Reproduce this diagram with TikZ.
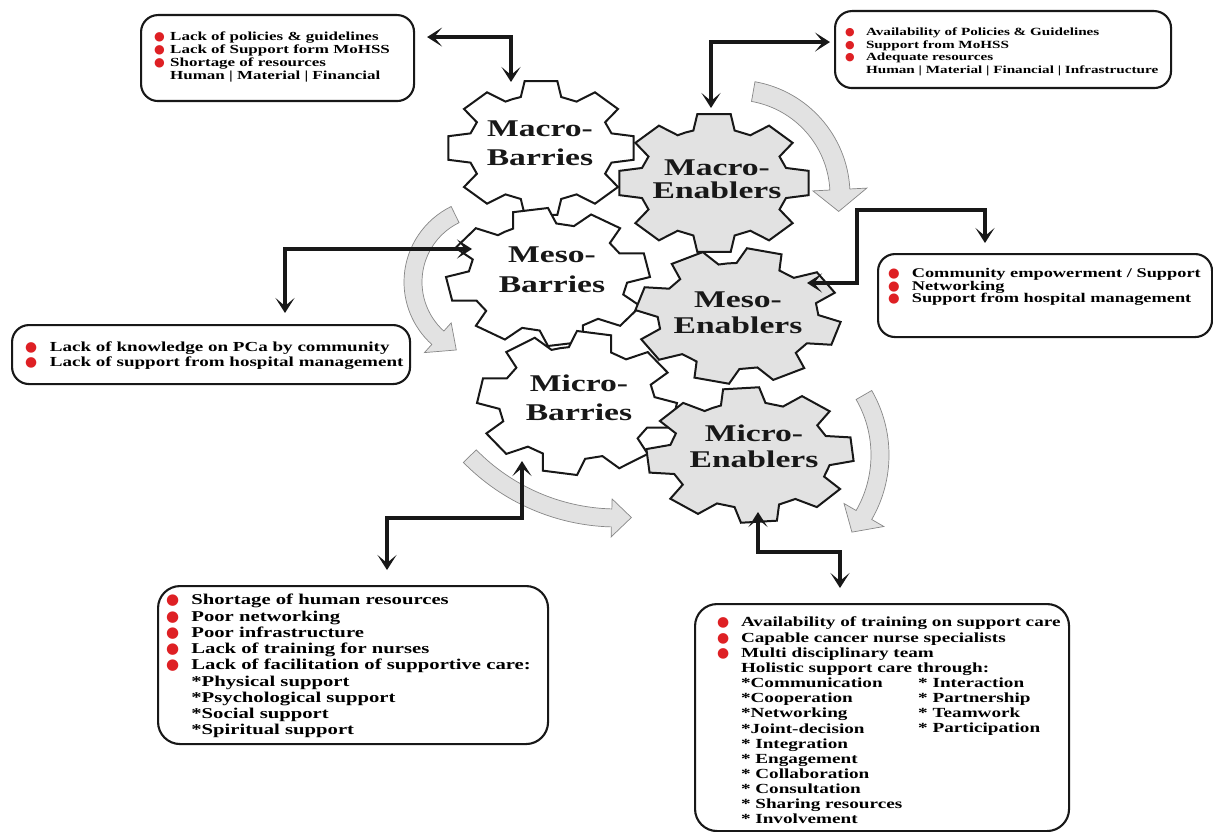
\documentclass[tikz,border=0pt]{standalone}
\usepackage{fontspec}
\setmainfont{Liberation Serif}
\newfontfamily\boxfont{Liberation Serif}[FakeStretch=1.38]
\newfontfamily\gearfont{Liberation Serif}[FakeStretch=1.4]
\newfontfamily\dotfont{DejaVu Sans}
\usetikzlibrary{arrows.meta,calc}

\definecolor{bulred}{RGB}{222,32,36}
\definecolor{gearfill}{RGB}{226,226,226}
\definecolor{bandfill}{RGB}{226,226,226}
\definecolor{bandedge}{RGB}{135,135,135}
\definecolor{ink}{RGB}{24,24,24}

% red bullet followed by a fixed gap; \ind gives the same indent without bullet
\newcommand\bul[1][16pt]{\makebox[#1][l]{\textcolor{bulred}{\dotfont ●}}}
\newcommand\ind[1][16pt]{\hspace*{#1}}

% gear outline: centre x, centre y, x radius, y radius, rotation, fill
\newcommand\gear[6]{%
  \filldraw[gearline, fill=#6, shift={(#1,#2)}, xscale=#3, yscale=#4]
    ({#5-22.5}:0.78)
    \foreach \k in {0,...,7}{
      -- ({#5+45*\k-16}:0.78) -- ({#5+45*\k-10}:1)
      -- ({#5+45*\k+10}:1) -- ({#5+45*\k+16}:0.78)}
    -- cycle;}

% curved block arrow: centre x, centre y, radius, tail angle, head angle,
% tip angle, half band width, half head width
\newcommand\bentarrow[8]{%
  \filldraw[band, shift={(#1,#2)}]
    ({#4}:{#3+#7}) arc[start angle=#4, end angle=#5, radius={#3+#7}]
    -- ({#5}:{#3+#8}) -- ({#6}:{#3}) -- ({#5}:{#3-#8})
    -- ({#5}:{#3-#7}) arc[start angle=#5, end angle=#4, radius={#3-#7}]
    -- cycle;}

\tikzset{
  gearline/.style={draw=ink, line width=2pt, line join=miter},
  band/.style={fill=bandfill, draw=bandedge, line width=0.7pt},
  box/.style={draw=ink, line width=2.1pt, rounded corners=17pt, fill=white,
    inner sep=0pt, anchor=north west},
  boxtext/.style={anchor=north west, inner sep=0pt, align=left, text=black},
  gearlabel/.style={anchor=north, inner sep=0pt, align=center, text=ink,
    font=\gearfont\bfseries\fontsize{24}{29}\selectfont},
  biarrow/.style={draw=ink, line width=3.4pt,
    {Stealth[length=15pt, width=19pt, inset=8pt]}-{Stealth[length=15pt, width=19pt, inset=8pt]}},
}

\begin{document}
\begin{tikzpicture}[x=1pt, y=-1pt]
\fill[white] (0,0) rectangle (1213,832);
\useasboundingbox (0,0) rectangle (1213,832);

% rotating block arrows between the gears
\bentarrow{735}{195}{105}{-80}{-3}{9}{10}{27}
\bentarrow{488}{282}{75}{-116}{-228}{-245}{9}{20}
\bentarrow{617}{312}{206}{135.6}{91.5}{86}{9}{19}
\bentarrow{760}{455}{120}{-30}{30}{40}{9}{23}

% gears: barriers (white) and enablers (grey)
\gear{541}{148}{94}{68}{-90}{white}
\gear{548}{277}{102}{69}{-100}{white}
\gear{577}{403}{100}{72}{-80}{white}
\gear{714}{183}{96}{70}{-90}{gearfill}
\gear{738}{316}{103}{68}{-75}{gearfill}
\gear{750}{455}{104}{68}{-95}{gearfill}

\node[gearlabel] (gMB) at (540,121) {Macro-\\Barries};
\node[gearlabel, font=\gearfont\bfseries\fontsize{24}{23}\selectfont] (gME) at (717,160) {Macro-\\Enablers};
\node[gearlabel, font=\gearfont\bfseries\fontsize{24}{30}\selectfont] (gSB) at (552,247) {Meso-\\Barries};
\node[gearlabel, font=\gearfont\bfseries\fontsize{24}{26}\selectfont] (gSE) at (738,292) {Meso-\\Enablers};
\node[gearlabel] (gIB) at (579,375) {Micro-\\Barries};
\node[gearlabel, font=\gearfont\bfseries\fontsize{24}{26}\selectfont] (gIE) at (754,425) {Micro-\\Enablers};

% boxes
\node[box, minimum width=273pt, minimum height=86pt] (tlbox) at (140,14) {};
\node[box, minimum width=336pt, minimum height=77pt] (trbox) at (834,10) {};
\node[box, minimum width=398pt, minimum height=59pt] (lbox) at (11,324) {};
\node[box, minimum width=334pt, minimum height=83pt] (rbox) at (877,253) {};
\node[box, minimum width=390pt, minimum height=158pt, rounded corners=22pt] (blbox) at (157,585) {};
\node[box, minimum width=374pt, minimum height=227pt, rounded corners=22pt] (brbox) at (694,603) {};

\node[boxtext, font=\boxfont\bfseries\fontsize{12.3}{13}\selectfont] (tltext) at (154,32)
  {\bul Lack of policies \& guidelines\\
   \bul Lack of Support form MoHSS\\
   \bul Shortage of resources\\
   \ind Human | Material | Financial};

\node[boxtext, font=\boxfont\bfseries\fontsize{11}{12.7}\selectfont] (trtext) at (845,27.5)
  {\bul[17pt] Availability of Policies \& Guidelines\\
   \bul[17pt] Support from MoHSS\\
   \bul[17pt] Adequate resources\\
   \ind[17pt] Human | Material | Financial | Infrastructure};

\node[boxtext, font=\boxfont\bfseries\fontsize{13.8}{15}\selectfont] (ltext) at (25,341.5)
  {\bul[20pt] Lack of knowledge on PCa by community\\
   \bul[20pt] Lack of support from hospital management};

\node[boxtext, font=\boxfont\bfseries\fontsize{13.3}{12.6}\selectfont] (rtext) at (888,268)
  {\bul[19pt] Community empowerment / Support\\
   \bul[19pt] Networking\\
   \bul[19pt] Support from hospital management};

\node[boxtext, font=\boxfont\bfseries\fontsize{15}{16.25}\selectfont] (bltext) at (166,594)
  {\bul[20pt] Shortage of human resources\\
   \bul[20pt] Poor networking\\
   \bul[20pt] Poor infrastructure\\
   \bul[20pt] Lack of training for nurses\\
   \bul[20pt] Lack of facilitation of supportive care:\\
   \ind[20pt] *Physical support\\
   \ind[20pt] *Psychological support\\
   \ind[20pt] *Social support\\
   \ind[20pt] *Spiritual support};

\node[boxtext, font=\boxfont\bfseries\fontsize{13.9}{15.15}\selectfont] (brtext) at (717,617)
  {\bul[19pt] Availability of training on support care\\
   \bul[19pt] Capable cancer nurse specialists\\
   \bul[19pt] Multi disciplinary team\\
   \ind[19pt] Holistic support care through:\\
   \ind[19pt] *Communication\\
   \ind[19pt] *Cooperation\\
   \ind[19pt] *Networking\\
   \ind[19pt] *Joint-decision\\
   \ind[19pt] * Integration\\
   \ind[19pt] * Engagement\\
   \ind[19pt] * Collaboration\\
   \ind[19pt] * Consultation\\
   \ind[19pt] * Sharing resources\\
   \ind[19pt] * Involvement};

\node[boxtext, font=\boxfont\bfseries\fontsize{13.9}{15.15}\selectfont] (brtext2) at (918,677.5)
  {* Interaction\\
   * Partnership\\
   * Teamwork\\
   * Participation};

% connector end points on the gears
\coordinate (mbtop) at (511,82);
\coordinate (metop) at (711,108);
\coordinate (sbleft) at (472,249);
\coordinate (seright) at (807,283);
\coordinate (ibbot) at (522,461);
\coordinate (iebot) at (758,512);

% elbow connectors
\draw[biarrow] ($(tlbox.east)+(12,-21)$) -| (mbtop);
\draw[biarrow] ($(trbox.west)+(-4,-7.5)$) -| (metop);
\draw[biarrow, line width=4.4pt] (sbleft) -| ($(lbox.north west)+(274,-11)$);
\draw[biarrow] (seright) -- ++(50,0) -- ++(0,-73) -| ($(rbox.north west)+(108,-10)$);
\draw[biarrow] (ibbot) -- ++(0,57) -| ($(blbox.north west)+(230,-15)$);
\draw[biarrow] (iebot) -- ++(0,40) -| ($(brbox.north west)+(146,-15)$);
\end{tikzpicture}
\end{document}
